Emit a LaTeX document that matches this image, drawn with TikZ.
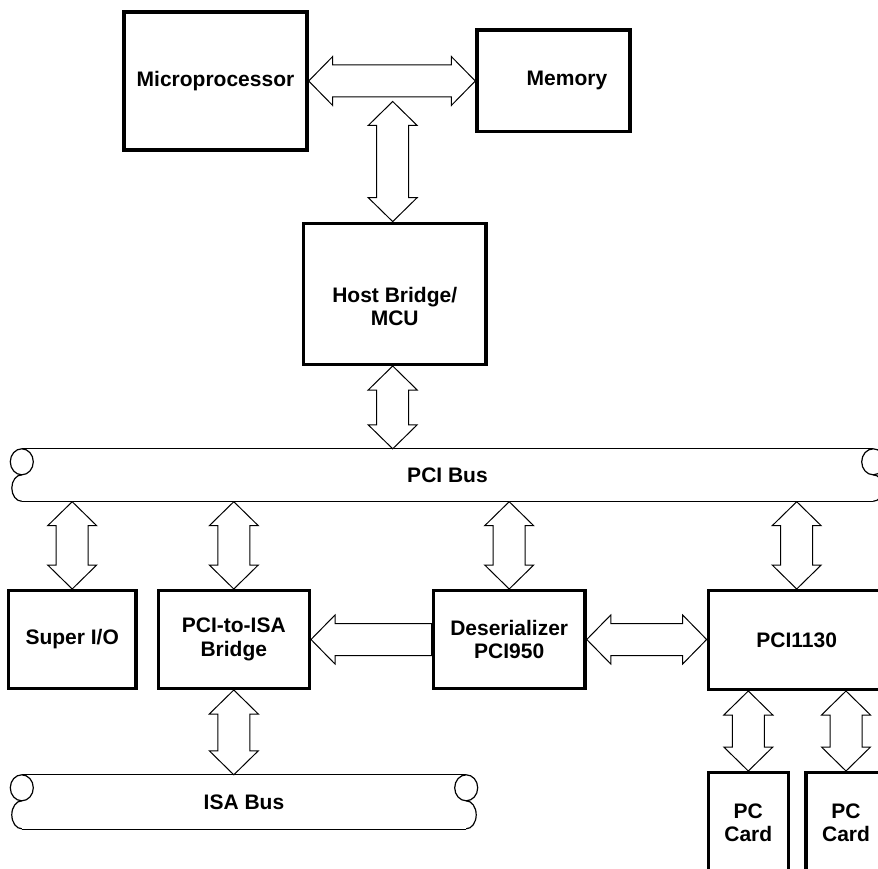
\documentclass[tikz,border=0pt]{standalone}
\usepackage{fontspec}
\setmainfont{Liberation Sans}
\usetikzlibrary{calc}
\newlength\ahl \setlength\ahl{24pt}
\newlength\ahw \setlength\ahw{24.5pt}
\newlength\asw \setlength\asw{16pt}
% double horizontal fat arrow: #1 left tip, #2 right tip
\newcommand\fatH[2]{%
  \draw[fatarrow] let \p1=(#1), \p2=(#2) in
   (\x1,\y1) -- (\x1+\ahl,\y1+\ahw) -- (\x1+\ahl,\y1+\asw) -- (\x2-\ahl,\y1+\asw)
   -- (\x2-\ahl,\y1+\ahw) -- (\x2,\y1) -- (\x2-\ahl,\y1-\ahw) -- (\x2-\ahl,\y1-\asw)
   -- (\x1+\ahl,\y1-\asw) -- (\x1+\ahl,\y1-\ahw) -- cycle;}
% single horizontal fat arrow pointing left: #1 tip, #2 tail
\newcommand\fatL[2]{%
  \draw[fatarrow] let \p1=(#1), \p2=(#2) in
   (\x1,\y1) -- (\x1+\ahl,\y1+\ahw) -- (\x1+\ahl,\y1+\asw) -- (\x2,\y1+\asw)
   -- (\x2,\y1-\asw) -- (\x1+\ahl,\y1-\asw) -- (\x1+\ahl,\y1-\ahw) -- cycle;}
% double vertical fat arrow: #1 top tip, #2 bottom tip
\newcommand\fatV[2]{%
  \draw[fatarrow] let \p1=(#1), \p2=(#2) in
   (\x1,\y1) -- (\x1+\ahw,\y1-\ahl) -- (\x1+\asw,\y1-\ahl) -- (\x1+\asw,\y2+\ahl)
   -- (\x1+\ahw,\y2+\ahl) -- (\x1,\y2) -- (\x1-\ahw,\y2+\ahl) -- (\x1-\asw,\y2+\ahl)
   -- (\x1-\asw,\y1-\ahl) -- (\x1-\ahw,\y1-\ahl) -- cycle;}
% bus outline around a node #1 (top/bottom lines and rolled ends)
\newcommand\busends[2]{% #1 node, #2 lower arc y radius
  \draw[busline] (#1.north west) -- (#1.north east) (#1.south west) -- (#1.south east);
  \draw[busline] ([yshift=-13pt]#1.north west) ellipse [x radius=11.5pt, y radius=13pt];
  \draw[busline] ([yshift=-13pt]#1.north east) ellipse [x radius=11.5pt, y radius=13pt];
  \draw[busline] ([yshift=-26pt]#1.north west) arc [start angle=90, end angle=270, x radius=10pt, y radius=#2];
  \draw[busline] ([yshift=-26pt]#1.north east) arc [start angle=90, end angle=-90, x radius=10pt, y radius=#2];}
\begin{document}
\begin{tikzpicture}[x=1pt,y=-1pt,
  bfont/.style={font=\bfseries\fontsize{21}{23.4}\selectfont},
  blk/.style={draw, line width=3.4pt, fill=white, inner sep=0pt, align=center, bfont},
  btext/.style={inner sep=0pt, align=center, bfont},
  bus/.style={inner sep=0pt, align=center, bfont},
  busline/.style={line width=1.2pt, line join=round},
  fatarrow/.style={draw=black, fill=white, line width=1pt, line join=miter}]
\useasboundingbox[fill=white] (0,0) rectangle (878,869);

% blocks
\node[blk, minimum width=183pt, minimum height=138pt] (micro) at (215.5,81) {Microprocessor};
\node[blk, minimum width=153pt, minimum height=101.7pt] (mem) at (553.5,80.85) {};
\node[btext] (memtext) at (567,80.85) {Memory};
\node[blk, minimum width=182.7pt, minimum height=141pt] (host) at (394.7,293.8) {};
\node[btext] (hosttext) at (394.7,306.5) {Host Bridge/\\MCU};

\node[bus, minimum width=851pt, minimum height=52.5pt] (pci) at (447.5,475.25) {PCI Bus};

\node[blk, minimum width=127.7pt, minimum height=97.6pt] (superio) at (72.2,639.5) {Super I/O};
\node[blk, minimum width=151pt, minimum height=97.6pt] (bridge) at (233.8,639.5) {PCI-to-ISA\\Bridge};
\node[blk, minimum width=151.7pt, minimum height=97.6pt] (des) at (509.2,639.5) {Deserializer\\PCI950};
\node[blk, minimum width=176.7pt, minimum height=98.6pt] (p1130) at (796.7,640) {PCI1130};

\node[bus, minimum width=444pt, minimum height=54pt] (isa) at (244,802) {ISA Bus};

\node[blk, minimum width=80pt, minimum height=100.6pt] (card1) at (748.3,823) {PC\\Card};
\node[blk, minimum width=80pt, minimum height=100.6pt] (card2) at (846,823) {PC\\Card};

% buses
\busends{pci}{13.25pt}
\busends{isa}{14pt}

% connectors
\coordinate (hj) at (392.7,101.5);
\fatH{micro.east}{micro.east -| mem.west}
\fatV{hj}{hj |- host.north}
\fatV{hj |- host.south}{hj |- pci.north}
\fatV{superio.north |- pci.south}{superio.north}
\fatV{bridge.north |- pci.south}{bridge.north}
\fatV{des.north |- pci.south}{des.north}
\fatV{p1130.north |- pci.south}{p1130.north}
\fatL{des.west -| bridge.east}{des.west}
\fatH{des.east}{des.east -| p1130.west}
\fatV{bridge.south}{bridge.south |- isa.north}
\fatV{card1.north |- p1130.south}{card1.north}
\fatV{card2.north |- p1130.south}{card2.north}
\end{tikzpicture}
\end{document}
